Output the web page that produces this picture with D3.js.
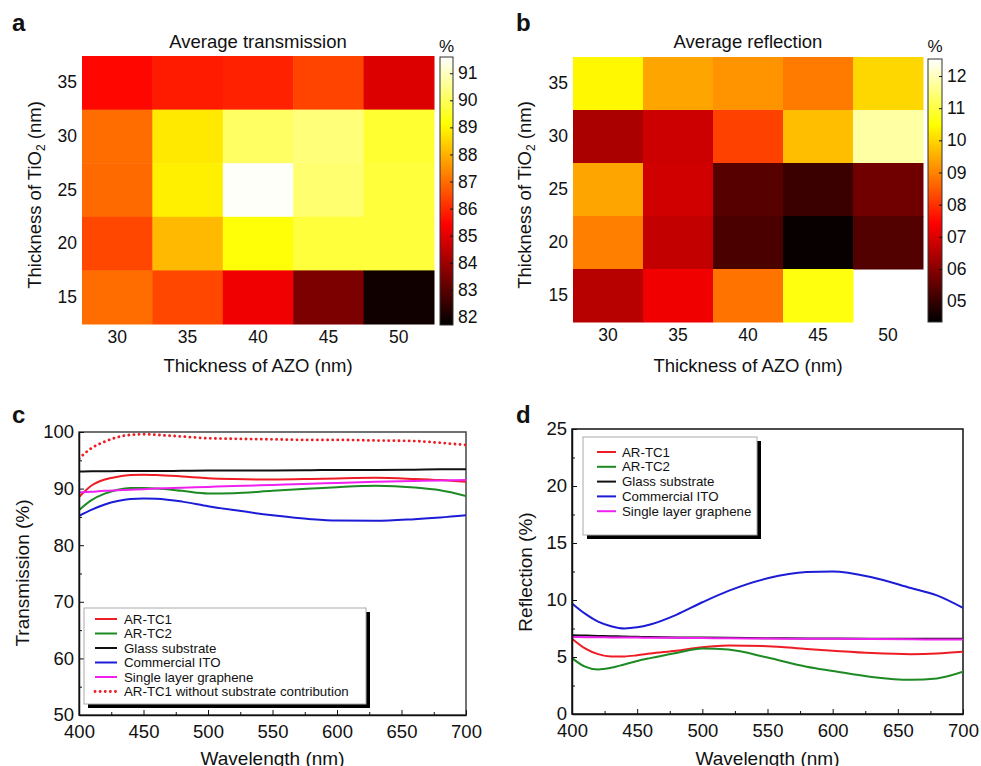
<!DOCTYPE html>
<html>
<head>
<meta charset="utf-8">
<script src="https://d3js.org/d3.v7.min.js"></script>
<style>
body { margin: 0; background: #fff; }
svg text { font-family: "Liberation Sans", Arial, Helvetica, sans-serif; fill: #111; }
.axis path, .axis line { stroke: #111; }
</style>
</head>
<body>
<svg id="fig" width="981" height="766"></svg>
<script>
// ---- heatmap data (rows top->bottom = TiO2 35..15, cols = AZO 30..50)
var azo = [30, 35, 40, 45, 50];
var tio2 = [35, 30, 25, 20, 15];
var transGrid = [
  [85.5, 85.8, 85.9, 86.4, 84.9],
  [87.0, 88.8, 90.1, 90.3, 89.6],
  [86.95, 88.9, 91.55, 90.2, 89.7],
  [86.45, 88.1, 89.2, 89.7, 89.7],
  [87.0, 86.45, 85.2, 83.5, 81.95]
];
var reflGrid = [
  [10.4, 9.4, 9.2, 8.9, 10.0],
  [6.4, 6.8, 8.2, 9.7, 11.8],
  [9.4, 6.85, 5.4, 5.05, 5.7],
  [8.95, 6.7, 5.25, 4.45, 5.35],
  [6.55, 7.25, 8.8, 10.6, null]
];
var transTicks = [82, 83, 84, 85, 86, 87, 88, 89, 90, 91];
var reflTicks = [5, 6, 7, 8, 9, 10, 11, 12];

// ---- spectra
var wl = [400, 410, 420, 430, 440, 450, 460, 480, 500, 520, 550, 580, 600, 630, 660, 680, 700];
var transTC1 = [88.5, 90.6, 91.6, 92.1, 92.4, 92.45, 92.4, 92.15, 91.85, 91.7, 91.6, 91.7, 91.8, 91.9, 91.7, 91.5, 91.2];
var transTC2 = [86.2, 88.0, 89.1, 89.8, 90.1, 90.1, 90.0, 89.6, 89.15, 89.2, 89.6, 90.0, 90.25, 90.5, 90.2, 89.7, 88.7];
var transGlass = [93.0, 93.05, 93.05, 93.1, 93.1, 93.1, 93.1, 93.15, 93.2, 93.2, 93.2, 93.25, 93.3, 93.3, 93.35, 93.4, 93.4];
var transITO = [85.2, 86.3, 87.2, 87.8, 88.15, 88.25, 88.2, 87.7, 86.9, 86.2, 85.3, 84.6, 84.35, 84.3, 84.6, 84.9, 85.3];
var transGraphene = [89.3, 89.45, 89.6, 89.7, 89.8, 89.9, 90.0, 90.15, 90.3, 90.45, 90.65, 90.85, 91.0, 91.2, 91.35, 91.45, 91.5];
var transTC1NoSub = [95.3, 97.2, 98.3, 99.1, 99.5, 99.6, 99.5, 99.2, 98.9, 98.8, 98.7, 98.6, 98.6, 98.5, 98.4, 98.1, 97.7];

var reflTC1 = [6.6, 5.75, 5.25, 5.05, 5.05, 5.15, 5.3, 5.55, 5.85, 6.0, 5.95, 5.7, 5.55, 5.35, 5.25, 5.3, 5.45];
var reflTC2 = [4.9, 4.15, 3.9, 4.05, 4.35, 4.65, 4.9, 5.35, 5.75, 5.65, 4.95, 4.15, 3.78, 3.25, 3.0, 3.12, 3.7];
var reflGlass = [6.9, 6.88, 6.85, 6.82, 6.8, 6.77, 6.75, 6.72, 6.7, 6.68, 6.65, 6.63, 6.62, 6.61, 6.6, 6.6, 6.6];
var reflITO = [9.7, 8.8, 8.1, 7.7, 7.5, 7.6, 7.85, 8.7, 9.8, 10.8, 11.9, 12.45, 12.5, 12.0, 11.05, 10.4, 9.3];
var reflGraphene = [6.75, 6.74, 6.73, 6.72, 6.71, 6.7, 6.69, 6.68, 6.66, 6.64, 6.62, 6.6, 6.59, 6.57, 6.55, 6.54, 6.53];

var legendC = ["AR-TC1", "AR-TC2", "Glass substrate", "Commercial ITO", "Single layer graphene", "AR-TC1 without substrate contribution"];
var legendD = ["AR-TC1", "AR-TC2", "Glass substrate", "Commercial ITO", "Single layer graphene"];

var svg = d3.select("#fig");
var defs = svg.append("defs");

// matlab-like "hot" colormap
function hot(t) {
  t = Math.max(0, Math.min(1, t));
  var r = Math.min(1, t / 0.375),
      g = Math.max(0, Math.min(1, (t - 0.375) / 0.375)),
      b = Math.max(0, Math.min(1, (t - 0.75) / 0.25));
  return d3.rgb(r * 255, g * 255, b * 255).toString();
}

function heatmap(o) {
  var x = d3.scaleBand().domain(azo).range([o.x0, o.x1]);
  var y = d3.scaleBand().domain(tio2).range([o.y0, o.y1]);
  var norm = d3.scaleLinear().domain(o.cdomain).range([0, 1]);

  var cells = [];
  o.grid.forEach(function(row, i) {
    row.forEach(function(v, j) {
      if (v != null) cells.push({t: tio2[i], a: azo[j], v: v});
    });
  });
  svg.append("g").selectAll("rect").data(cells).enter().append("rect")
    .attr("x", function(d) { return x(d.a); })
    .attr("y", function(d) { return y(d.t); })
    .attr("width", x.bandwidth() + 0.5)
    .attr("height", y.bandwidth() + 0.5)
    .attr("fill", function(d) { return hot(norm(d.v)); });

  svg.append("g").attr("class", "axis")
    .attr("transform", "translate(" + o.x0 + ",0)")
    .call(d3.axisLeft(y).tickSize(0).tickPadding(5))
    .call(function(g) { g.select(".domain").remove(); })
    .selectAll("text").style("font-size", "17.5px");
  svg.append("g").attr("class", "axis")
    .attr("transform", "translate(0," + o.y1 + ")")
    .call(d3.axisBottom(x).tickSize(0).tickPadding(7))
    .call(function(g) { g.select(".domain").remove(); })
    .selectAll("text").style("font-size", "17.5px");

  var cx = (o.x0 + o.x1) / 2;
  svg.append("text").attr("x", cx).attr("y", 48).attr("text-anchor", "middle")
    .style("font-size", "18.5px").text(o.title);
  svg.append("text").attr("x", cx).attr("y", 372).attr("text-anchor", "middle")
    .style("font-size", "18.5px").text("Thickness of AZO (nm)");
  var yl = svg.append("text")
    .attr("transform", "translate(" + o.ylx + ",195) rotate(-90)")
    .attr("text-anchor", "middle").attr("dy", "0.35em")
    .style("font-size", "18.5px");
  yl.append("tspan").text("Thickness of TiO");
  yl.append("tspan").attr("dy", "4").style("font-size", "12px").text("2");
  yl.append("tspan").attr("dy", "-4").text(" (nm)");

  // colorbar
  var gid = "grad" + o.id;
  var grad = defs.append("linearGradient").attr("id", gid)
    .attr("x1", 0).attr("y1", 1).attr("x2", 0).attr("y2", 0);
  d3.range(0, 1.0001, 0.025).forEach(function(t) {
    grad.append("stop").attr("offset", t).attr("stop-color", hot(t));
  });
  var cs = d3.scaleLinear().domain(o.cdomain).range([o.cb.y1, o.cb.y0]);
  svg.append("rect").attr("x", o.cb.x0).attr("y", o.cb.y0)
    .attr("width", o.cb.w).attr("height", o.cb.y1 - o.cb.y0)
    .attr("fill", "url(#" + gid + ")").attr("stroke", "#333").attr("stroke-width", 1);
  svg.append("g").attr("class", "axis")
    .attr("transform", "translate(" + (o.cb.x0 + o.cb.w) + ",0)")
    .call(d3.axisRight(cs).tickValues(o.ticks).tickSize(-3).tickPadding(5).tickFormat(o.fmt))
    .call(function(g) { g.select(".domain").remove(); })
    .selectAll("text").style("font-size", "17.5px");
  svg.append("text").attr("x", o.cb.x0 + o.cb.w / 2).attr("y", 52)
    .attr("text-anchor", "middle").style("font-size", "17px").text("%");
}

heatmap({id: "a", grid: transGrid, x0: 82, x1: 434, y0: 56, y1: 324, cdomain: [81.7, 91.6],
  title: "Average transmission", ylx: 35, ticks: transTicks, fmt: d3.format("d"),
  cb: {x0: 440, w: 13, y0: 57, y1: 325}});
heatmap({id: "b", grid: reflGrid, x0: 573, x1: 923, y0: 57, y1: 322, cdomain: [4.35, 12.53],
  title: "Average reflection", ylx: 525, ticks: reflTicks, fmt: d3.format("02d"),
  cb: {x0: 928, w: 14, y0: 59, y1: 322}});

// ---- spectra panels
function spectra(o) {
  var x = d3.scaleLinear().domain([400, 700]).range([o.x0, o.x1]);
  var y = d3.scaleLinear().domain(o.ydomain).range([o.y1, o.y0]);

  defs.append("clipPath").attr("id", "clip" + o.id).append("rect")
    .attr("x", o.x0).attr("y", o.y0).attr("width", o.x1 - o.x0).attr("height", o.y1 - o.y0);

  // frame
  svg.append("rect").attr("x", o.x0).attr("y", o.y0)
    .attr("width", o.x1 - o.x0).attr("height", o.y1 - o.y0)
    .attr("fill", "none").attr("stroke", o.frame).attr("stroke-width", 1.5);

  var line = d3.line().curve(d3.curveMonotoneX)
    .x(function(d) { return x(d[0]); }).y(function(d) { return y(d[1]); });
  var g = svg.append("g").attr("clip-path", "url(#clip" + o.id + ")");
  o.series.forEach(function(s) {
    g.append("path").datum(wl.map(function(w, i) { return [w, s.v[i]]; }))
      .attr("d", line).attr("fill", "none").attr("stroke", s.c)
      .attr("stroke-width", s.dot ? 2.8 : 2)
      .attr("stroke-dasharray", s.dot ? "0.1,5" : null)
      .attr("stroke-linecap", s.dot ? "round" : "butt");
  });

  var xa = svg.append("g").attr("class", "axis").attr("transform", "translate(0," + o.y1 + ")");
  xa.call(d3.axisBottom(x).tickValues(d3.range(400, 701, 50)).tickSizeInner(-5).tickSizeOuter(0).tickPadding(10))
    .selectAll("text").style("font-size", "18.5px");
  xa.append("g").call(d3.axisBottom(x).tickValues(d3.range(425, 700, 50)).tickSizeInner(-3).tickSizeOuter(0).tickFormat(""))
    .select(".domain").remove();
  xa.selectAll(".domain").attr("stroke-width", 1.5);

  var ya = svg.append("g").attr("class", "axis").attr("transform", "translate(" + o.x0 + ",0)");
  ya.call(d3.axisLeft(y).tickValues(o.yticks).tickSizeInner(-5).tickSizeOuter(0).tickPadding(5))
    .selectAll("text").style("font-size", "18.5px");
  ya.append("g").call(d3.axisLeft(y).tickValues(o.yminor).tickSizeInner(-3).tickSizeOuter(0).tickFormat(""))
    .select(".domain").remove();
  ya.selectAll(".domain").attr("stroke-width", 1.5);

  svg.append("text").attr("x", (o.x0 + o.x1) / 2).attr("y", 765).attr("text-anchor", "middle")
    .style("font-size", "19px").text("Wavelength (nm)");
  svg.append("text").attr("transform", "translate(" + o.ylx + "," + o.yly + ") rotate(-90)")
    .attr("text-anchor", "middle").attr("dy", "0.35em")
    .style("font-size", "19px").text(o.ylabel);

  // legend
  var L = o.legend;
  svg.append("rect").attr("x", L.x + L.sh).attr("y", L.y + L.sh).attr("width", L.w).attr("height", L.h).attr("fill", "#000");
  svg.append("rect").attr("x", L.x).attr("y", L.y).attr("width", L.w).attr("height", L.h)
    .attr("fill", "#fff").attr("stroke", "#aaa").attr("stroke-width", 1);
  var items = svg.append("g").selectAll("g").data(o.series).enter().append("g")
    .attr("transform", function(d, i) { return "translate(" + L.lx + "," + (L.ry + i * L.dy) + ")"; });
  items.append("line").attr("x1", 0).attr("x2", L.ll).attr("y1", 0).attr("y2", 0)
    .attr("stroke", function(d) { return d.c; })
    .attr("stroke-width", function(d) { return d.dot ? 2.8 : 2; })
    .attr("stroke-dasharray", function(d) { return d.dot ? "0.1,5" : null; })
    .attr("stroke-linecap", function(d) { return d.dot ? "round" : "butt"; });
  items.append("text").attr("x", L.tx).attr("dy", "0.35em").style("font-size", "13.3px")
    .text(function(d) { return d.name; });
}

var red = "#ee1c24", green = "#1d8a24", blue = "#1c1cd6", black = "#111", magenta = "#f020f0";

spectra({id: "c", x0: 79, x1: 466, y0: 432, y1: 715, ydomain: [50, 100],
  yticks: d3.range(50, 101, 10), yminor: d3.range(55, 100, 10), frame: "#444",
  ylabel: "Transmission (%)", ylx: 22, yly: 573,
  series: [
    {name: legendC[0], v: transTC1, c: red},
    {name: legendC[1], v: transTC2, c: green},
    {name: legendC[2], v: transGlass, c: black},
    {name: legendC[3], v: transITO, c: blue},
    {name: legendC[4], v: transGraphene, c: magenta},
    {name: legendC[5], v: transTC1NoSub, c: red, dot: true}
  ],
  legend: {x: 84, y: 608, w: 282, h: 96, sh: 4, lx: 95, ll: 22, tx: 29, ry: 619, dy: 14.5}});

spectra({id: "d", x0: 572, x1: 963, y0: 429, y1: 714, ydomain: [0, 25],
  yticks: d3.range(0, 26, 5), yminor: d3.range(2.5, 25, 5), frame: "#111",
  ylabel: "Reflection (%)", ylx: 525, yly: 572,
  series: [
    {name: legendD[0], v: reflTC1, c: red},
    {name: legendD[1], v: reflTC2, c: green},
    {name: legendD[2], v: reflGlass, c: black},
    {name: legendD[3], v: reflITO, c: blue},
    {name: legendD[4], v: reflGraphene, c: magenta}
  ],
  legend: {x: 583, y: 437, w: 174, h: 98, sh: 4, lx: 597, ll: 19, tx: 25, ry: 452, dy: 14.8}});

// panel letters
[["a", 12, 31], ["b", 516, 31], ["c", 12, 423], ["d", 516, 423]].forEach(function(p) {
  svg.append("text").attr("x", p[1]).attr("y", p[2])
    .style("font-size", "24px").style("font-weight", "bold").text(p[0]);
});
</script>
</body>
</html>
